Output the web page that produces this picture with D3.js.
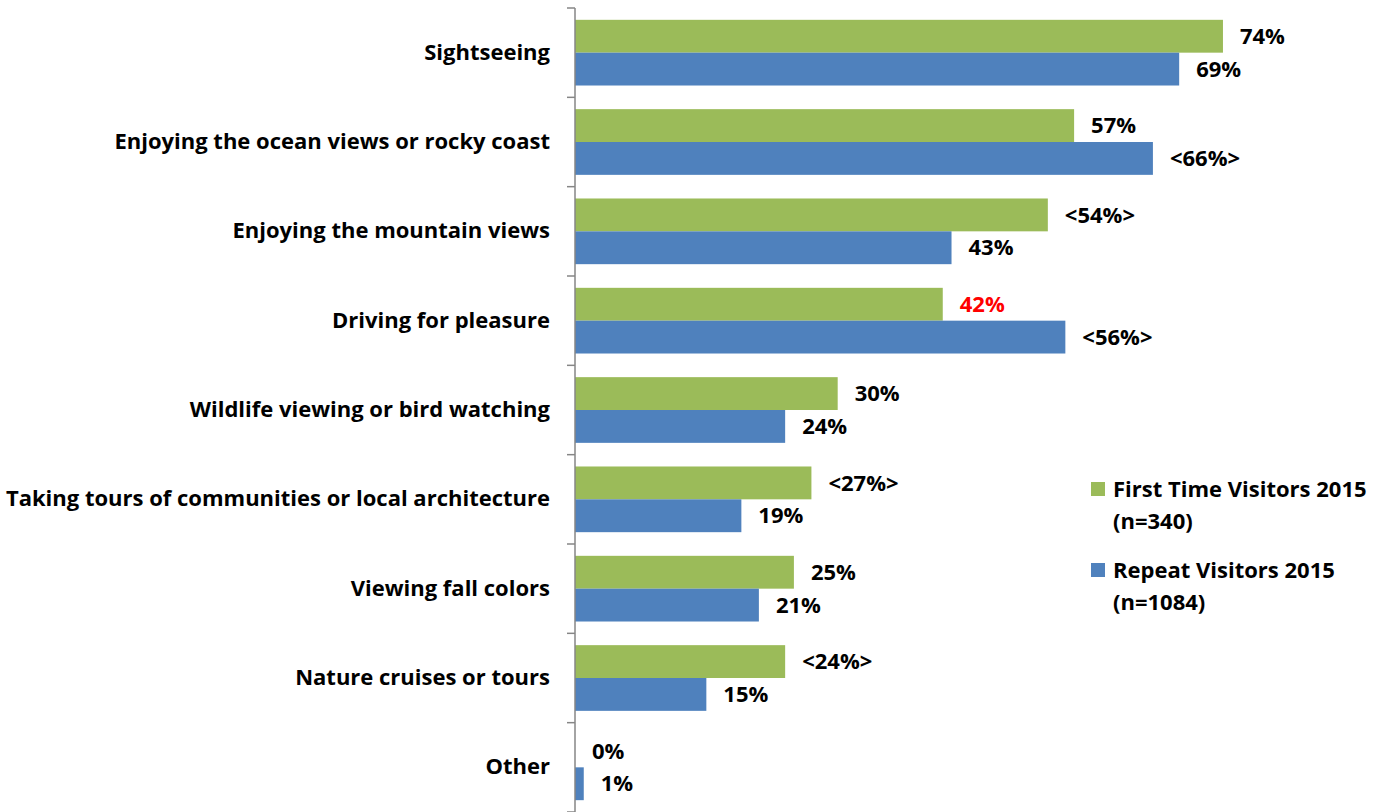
<!DOCTYPE html>
<html>
<head>
<meta charset="utf-8">
<script src="https://cdn.jsdelivr.net/npm/d3@7"></script>
<style>
  body { margin: 0; background: #fff; }
  text { font-family: "Open Sans", Lato, sans-serif; font-weight: bold; }
</style>
</head>
<body>
<svg id="chart" width="1377" height="812"></svg>
<script>
// data
let categories = ['Sightseeing', 'Enjoying the ocean views or rocky coast', 'Enjoying the mountain views',
  'Driving for pleasure', 'Wildlife viewing or bird watching', 'Taking tours of communities or local architecture',
  'Viewing fall colors', 'Nature cruises or tours', 'Other']
let firstTime = [74, 57, 54, 42, 30, 27, 25, 24, 0]
let repeat = [69, 66, 43, 56, 24, 19, 21, 15, 1]
let firstLabels = ['74%', '57%', '<54%>', '42%', '30%', '<27%>', '25%', '<24%>', '0%']
let repeatLabels = ['69%', '<66%>', '43%', '<56%>', '24%', '19%', '21%', '15%', '1%']
let seriesNames = [['First Time Visitors 2015', '(n=340)'], ['Repeat Visitors 2015', '(n=1084)']]

let svg = d3.select('#chart')
let left = 575
let fs = '22px'

let x = d3.scaleLinear().domain([0, 80]).range([left, left + 700.5])
let y = d3.scaleBand().domain(categories).range([8, 812]).padding(0)
let y1 = d3.scaleBand().domain(['first', 'repeat']).range([0, y.bandwidth()]).paddingOuter(0.36)

let green = '#9BBB59'
let blue = '#4F81BD'

let rows = categories.map((c, i) => ({
  cat: c,
  bars: [
    {key: 'first', v: firstTime[i], label: firstLabels[i], color: green, red: i == 3},
    {key: 'repeat', v: repeat[i], label: repeatLabels[i], color: blue, red: false}
  ]
}))

let g = svg.selectAll('g.row').data(rows).join('g')
  .attr('class', 'row')
  .attr('transform', d => `translate(0,${y(d.cat)})`)

g.selectAll('rect').data(d => d.bars).join('rect')
  .attr('x', x(0))
  .attr('y', d => y1(d.key))
  .attr('width', d => x(d.v) - x(0))
  .attr('height', y1.bandwidth())
  .style('fill', d => d.color)

g.selectAll('text.val').data(d => d.bars).join('text')
  .attr('class', 'val')
  .attr('x', d => x(d.v) + 17)
  .attr('y', d => y1(d.key) + y1.bandwidth() / 2)
  .attr('dy', '0.35em')
  .style('font-size', fs)
  .style('fill', d => d.red ? '#FF0000' : '#000')
  .text(d => d.label)

// category axis
let axis = svg.append('g').attr('transform', `translate(${left},0)`)
  .call(d3.axisLeft(y).tickSize(0).tickPadding(25))
axis.select('.domain').remove()
axis.selectAll('text').style('font-size', fs).style('fill', '#000')
  .style('font-family', '"Open Sans", sans-serif')

svg.append('line')
  .attr('x1', left).attr('x2', left).attr('y1', 8).attr('y2', 812)
  .style('stroke', '#868686').style('stroke-width', 1.5)
let edges = categories.map(c => y(c)).concat([812])
svg.selectAll('line.tick').data(edges).join('line')
  .attr('class', 'tick')
  .attr('x1', left - 8).attr('x2', left)
  .attr('y1', d => d).attr('y2', d => d)
  .style('stroke', '#868686').style('stroke-width', 1.5)

// legend
let legend = svg.append('g').attr('transform', 'translate(1091,482)')
seriesNames.forEach((s, i) => {
  let lg = legend.append('g').attr('transform', `translate(0,${i * 81})`)
  lg.append('rect').attr('width', 14).attr('height', 14).style('fill', i == 0 ? green : blue)
  lg.append('text').attr('x', 22).attr('y', 7).attr('dy', '0.35em')
    .style('font-size', fs).text(s[0])
  lg.append('text').attr('x', 22).attr('y', 39).attr('dy', '0.35em')
    .style('font-size', fs).text(s[1])
})
</script>
</body>
</html>
